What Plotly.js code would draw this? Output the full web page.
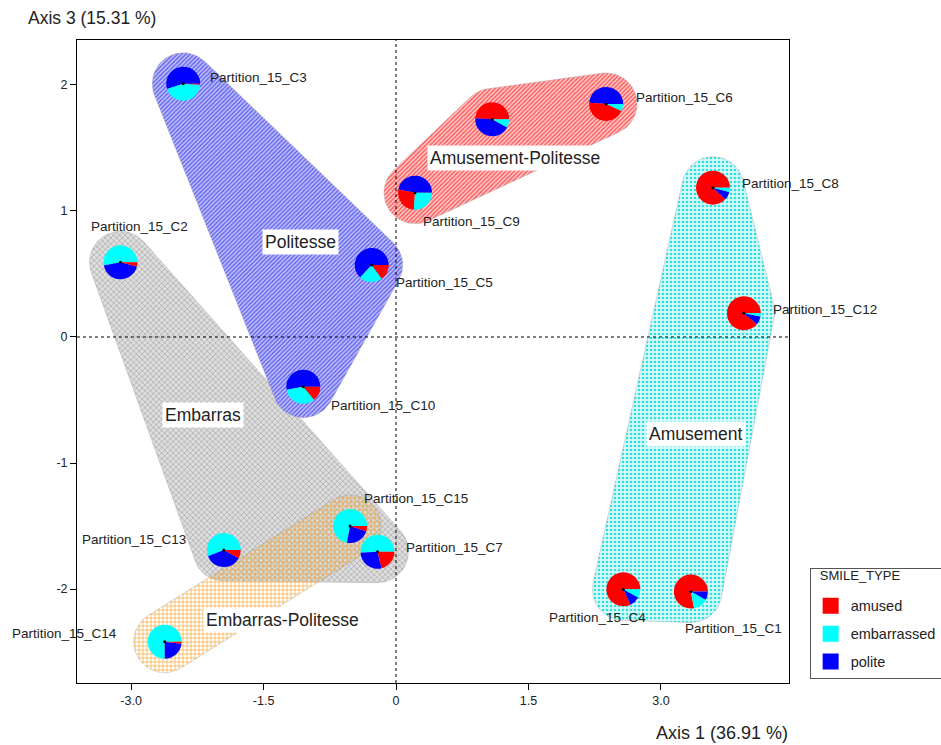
<!DOCTYPE html>
<html><head><meta charset="utf-8">
<script src="https://cdn.plot.ly/plotly-3.0.1.min.js"></script>
<style>html,body{margin:0;padding:0;background:#fff}</style>
</head><body><div id="chart" style="width:941px;height:745px"></div>
<script>
// ---- data ----
const partitions = ['Partition_15_C1','Partition_15_C2','Partition_15_C3','Partition_15_C4','Partition_15_C5',
  'Partition_15_C6','Partition_15_C7','Partition_15_C8','Partition_15_C9','Partition_15_C10',
  'Partition_15_C11','Partition_15_C12','Partition_15_C13','Partition_15_C14','Partition_15_C15'];
const axis1 = [3.34, -3.12, -2.41, 2.575, -0.275, 2.38, -0.21, 3.59, 0.215, -1.05, 1.09, 3.94, -1.95, -2.62, -0.52];
const axis3 = [-2.02, 0.593, 2.01, -2.002, 0.571, 1.85, -1.704, 1.185, 1.145, -0.394, 1.728, 0.188, -1.69, -2.418, -1.50];
const amused      = [78, 4, 1, 82, 15, 44, 21, 88, 27, 14, 49, 89, 8, 2, 5];
const embarrassed = [14, 53, 44, 8, 22, 7, 51, 4, 26, 33, 8, 3, 56, 75, 72];
const polite      = [8, 43, 55, 10, 63, 49, 28, 8, 47, 53, 43, 8, 36, 23, 23];
// label anchors (null = label not drawn) and which side of the text the anchor is on
const labelX = [3.817, -2.900, -1.552, 2.282, 0.549, 3.262, 0.663, 3.896, 0.855, -0.142, null, 4.247, -2.962, -3.137, 0.232];
const labelY = [-2.317, 0.873, 2.063, -2.230, 0.429, 1.897, -1.667, 1.222, 0.913, -0.540, null, 0.222, -1.611, -2.357, -1.278];
const labelSide = ['center','center','center','center','center','center','center','left','center','center',
  null,'left','center','right','center'];
const clusterNames = ['Embarras', 'Embarras-Politesse', 'Politesse', 'Amusement-Politesse', 'Amusement'];
const clusterMembers = [
  ['Partition_15_C2','Partition_15_C13','Partition_15_C7','Partition_15_C15'],
  ['Partition_15_C14','Partition_15_C15'],
  ['Partition_15_C3','Partition_15_C5','Partition_15_C10'],
  ['Partition_15_C9','Partition_15_C11','Partition_15_C6'],
  ['Partition_15_C8','Partition_15_C12','Partition_15_C4','Partition_15_C1']
];
const clusterLabelX = [-2.19, -1.28, -1.087, 1.35, 3.40];
const clusterLabelY = [-0.62, -2.246, 0.754, 1.42, -0.77];
const smileTypes = ['amused', 'embarrassed', 'polite'];
const xTickVals = [-3, -1.5, 0, 1.5, 3];
const xTickText = ['-3.0', '-1.5', '0', '1.5', '3.0'];
const yTickVals = [-2, -1, 0, 1, 2];
const yTickText = ['-2', '-1', '0', '1', '2'];

// ---- styles ----
const smileColors = ['#ff0000', '#00ffff', '#0000ff'];
const clusterStyles = [
  {shape: 'x', fg: '#b4b4b4', bg: '#dedede', size: 4, sol: 0.4},
  {shape: '+', fg: '#f2a630', bg: 'rgba(0,0,0,0)', size: 4, sol: 0.3},
  {shape: '/', fg: '#5a5af0', bg: '#bcbcf8', size: 3, sol: 0.4},
  {shape: '/', fg: '#ff4a4a', bg: '#ffc8c8', size: 3, sol: 0.4},
  {shape: '.', fg: '#30e0e0', bg: '#d8fafa', size: 4, sol: 0.35}
];
const W = 941, H = 745, M = {l: 77, r: 152, t: 40, b: 62, autoexpand: false};
const xRange = [-3.613, 4.451], yRange = [-2.746, 2.357];
const plotW = W - M.l - M.r, plotH = H - M.t - M.b;
const kx = plotW / (xRange[1] - xRange[0]);
const ky = plotH / (yRange[1] - yRange[0]);
const pieR = 17;   // px
const hullR = 31;  // px

function convexHull(pts) {
  pts = pts.slice().sort((a, b) => a[0] - b[0] || a[1] - b[1]);
  const cross = (o, a, b) => (a[0]-o[0])*(b[1]-o[1]) - (a[1]-o[1])*(b[0]-o[0]);
  const lower = [], upper = [];
  for (const p of pts) { while (lower.length >= 2 && cross(lower[lower.length-2], lower[lower.length-1], p) <= 0) lower.pop(); lower.push(p); }
  for (let i = pts.length - 1; i >= 0; i--) { const p = pts[i]; while (upper.length >= 2 && cross(upper[upper.length-2], upper[upper.length-1], p) <= 0) upper.pop(); upper.push(p); }
  upper.pop(); lower.pop();
  return lower.concat(upper);
}

const traces = [];
// hulls
clusterNames.forEach((name, ci) => {
  const pts = [];
  clusterMembers[ci].forEach(m => {
    const i = partitions.indexOf(m);
    for (let k = 0; k < 72; k++) {
      const t = 2 * Math.PI * k / 72;
      pts.push([axis1[i] + hullR * Math.cos(t) / kx, axis3[i] + hullR * Math.sin(t) / ky]);
    }
  });
  const h = convexHull(pts); h.push(h[0]);
  const st = clusterStyles[ci];
  traces.push({
    type: 'scatter', mode: 'lines', x: h.map(p => p[0]), y: h.map(p => p[1]),
    fill: 'toself', line: {color: 'rgba(150,150,150,0.45)', width: 0.8},
    fillpattern: {shape: st.shape, fgcolor: st.fg, bgcolor: st.bg, size: st.size, solidity: st.sol},
    showlegend: false, hoverinfo: 'skip'
  });
});
// legend entries
smileTypes.forEach((s, j) => {
  traces.push({type: 'scatter', mode: 'markers', x: [null], y: [null], name: s, legendgroup: s,
    marker: {symbol: 'square', size: 16, color: smileColors[j]}, showlegend: true});
});
// pies: slices sorted largest first, laid out counter-clockwise starting at 3 o'clock
partitions.forEach((p, i) => {
  const vals = [amused[i], embarrassed[i], polite[i]];
  const tot = vals[0] + vals[1] + vals[2];
  const firstDeg = 360 * Math.max.apply(null, vals) / tot;
  const cx = (axis1[i] - xRange[0]) / (xRange[1] - xRange[0]);
  const cy = (axis3[i] - yRange[0]) / (yRange[1] - yRange[0]);
  let rot = 90 - firstDeg; if (rot < -180) rot += 360;
  traces.push({
    type: 'pie', labels: smileTypes, values: vals,
    marker: {colors: smileColors, line: {width: 0}}, sort: true, direction: 'counterclockwise', rotation: rot,
    textinfo: 'none', showlegend: false, name: p, hoverinfo: 'label+percent+name',
    domain: {x: [cx - pieR / plotW, cx + pieR / plotW], y: [cy - pieR / plotH, cy + pieR / plotH]}
  });
});

const shapes = [
  {type: 'line', xref: 'x', yref: 'paper', x0: 0, x1: 0, y0: 0, y1: 1, layer: 'above', line: {color: '#000', width: 1, dash: '3px,3px'}},
  {type: 'line', xref: 'paper', yref: 'y', x0: 0, x1: 1, y0: 0, y1: 0, layer: 'above', line: {color: '#000', width: 1, dash: '3px,3px'}}
];
partitions.forEach((p, i) => {
  shapes.push({type: 'circle', xref: 'x', yref: 'y', xsizemode: 'pixel', ysizemode: 'pixel',
    xanchor: axis1[i], yanchor: axis3[i], x0: -1.5, x1: 1.5, y0: -1.5, y1: 1.5, layer: 'above',
    fillcolor: '#000', line: {width: 0}});
});

const annotations = [
  {xref: 'paper', yref: 'paper', x: -0.072, y: 1.034, xanchor: 'left', yanchor: 'middle', showarrow: false,
   text: 'Axis 3 (15.31 %)', font: {size: 17.5, color: '#222'}},
  {xref: 'paper', yref: 'paper', x: 1.002, y: -0.078, xanchor: 'right', yanchor: 'middle', showarrow: false,
   text: 'Axis 1 (36.91 %)', font: {size: 18, color: '#222'}}
];
partitions.forEach((p, i) => {
  if (labelX[i] === null) return;
  annotations.push({xref: 'x', yref: 'y', x: labelX[i], y: labelY[i], xanchor: labelSide[i], text: p, showarrow: false,
    font: {size: 13.5, color: '#222'}});
});
clusterNames.forEach((n, ci) => {
  annotations.push({xref: 'x', yref: 'y', x: clusterLabelX[ci], y: clusterLabelY[ci], text: n, showarrow: false,
    bgcolor: '#fff', borderpad: 2, font: {size: 17.5, color: '#222'}});
});

const axisCommon = {showgrid: false, zeroline: false, showline: true, mirror: true, linecolor: '#000', linewidth: 1,
  ticks: 'outside', ticklen: 6, tickcolor: '#000', tickfont: {size: 12.5, color: '#222'}, fixedrange: true};
const layout = {
  width: W, height: H, margin: M, paper_bgcolor: '#fff', plot_bgcolor: '#fff',
  font: {family: 'Liberation Sans, Arial, sans-serif', color: '#222'},
  xaxis: Object.assign({}, axisCommon, {range: xRange, tickmode: 'array', tickvals: xTickVals, ticktext: xTickText}),
  yaxis: Object.assign({}, axisCommon, {range: yRange, tickmode: 'array', tickvals: yTickVals, ticktext: yTickText}),
  showlegend: true,
  legend: {title: {text: '<span style="font-size:13px">&nbsp;&nbsp;SMILE_TYPE</span><br> ', font: {size: 8}}, x: 1.029, xanchor: 'left', y: 0.1787, yanchor: 'top',
    bordercolor: '#555', borderwidth: 1, bgcolor: '#fff', font: {size: 14.5}, tracegroupgap: 6, itemsizing: 'trace'},
  shapes: shapes, annotations: annotations
};
Plotly.newPlot('chart', traces, layout, {displayModeBar: false, staticPlot: true});
</script></body></html>
